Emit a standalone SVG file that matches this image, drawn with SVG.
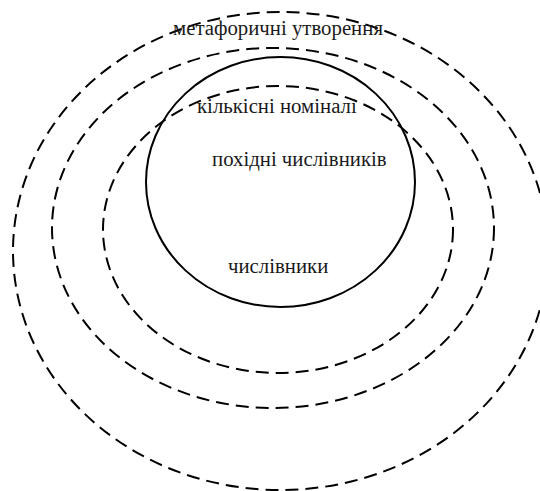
<svg xmlns="http://www.w3.org/2000/svg" width="540" height="491" viewBox="0 0 540 491">
<style>
.d{fill:none;stroke:#000;stroke-width:2;stroke-dasharray:13 7}
.s{fill:none;stroke:#000;stroke-width:2}
.t{font-family:"Liberation Serif","DejaVu Serif",serif;font-size:20.8px;fill:#1a1a1a}
</style>
<rect width="540" height="491" fill="#fff"/>
<g id="outer"><ellipse class="d" cx="280.5" cy="251" rx="267.5" ry="239"/></g>
<g id="second"><ellipse class="d" cx="273" cy="228" rx="221" ry="180"/></g>
<g id="third"><ellipse class="d" cx="278" cy="229.5" rx="175" ry="143.5"/></g>
<g id="solid"><ellipse class="s" cx="280.5" cy="182" rx="134.5" ry="125"/></g>
<g id="labels">
<text class="t" x="173" y="35">метафоричні утворення</text>
<text class="t" x="197" y="113">кількісні номіналі</text>
<text class="t" x="212" y="166">похідні числівників</text>
<text class="t" x="228" y="273">числівники</text>
</g>
</svg>
